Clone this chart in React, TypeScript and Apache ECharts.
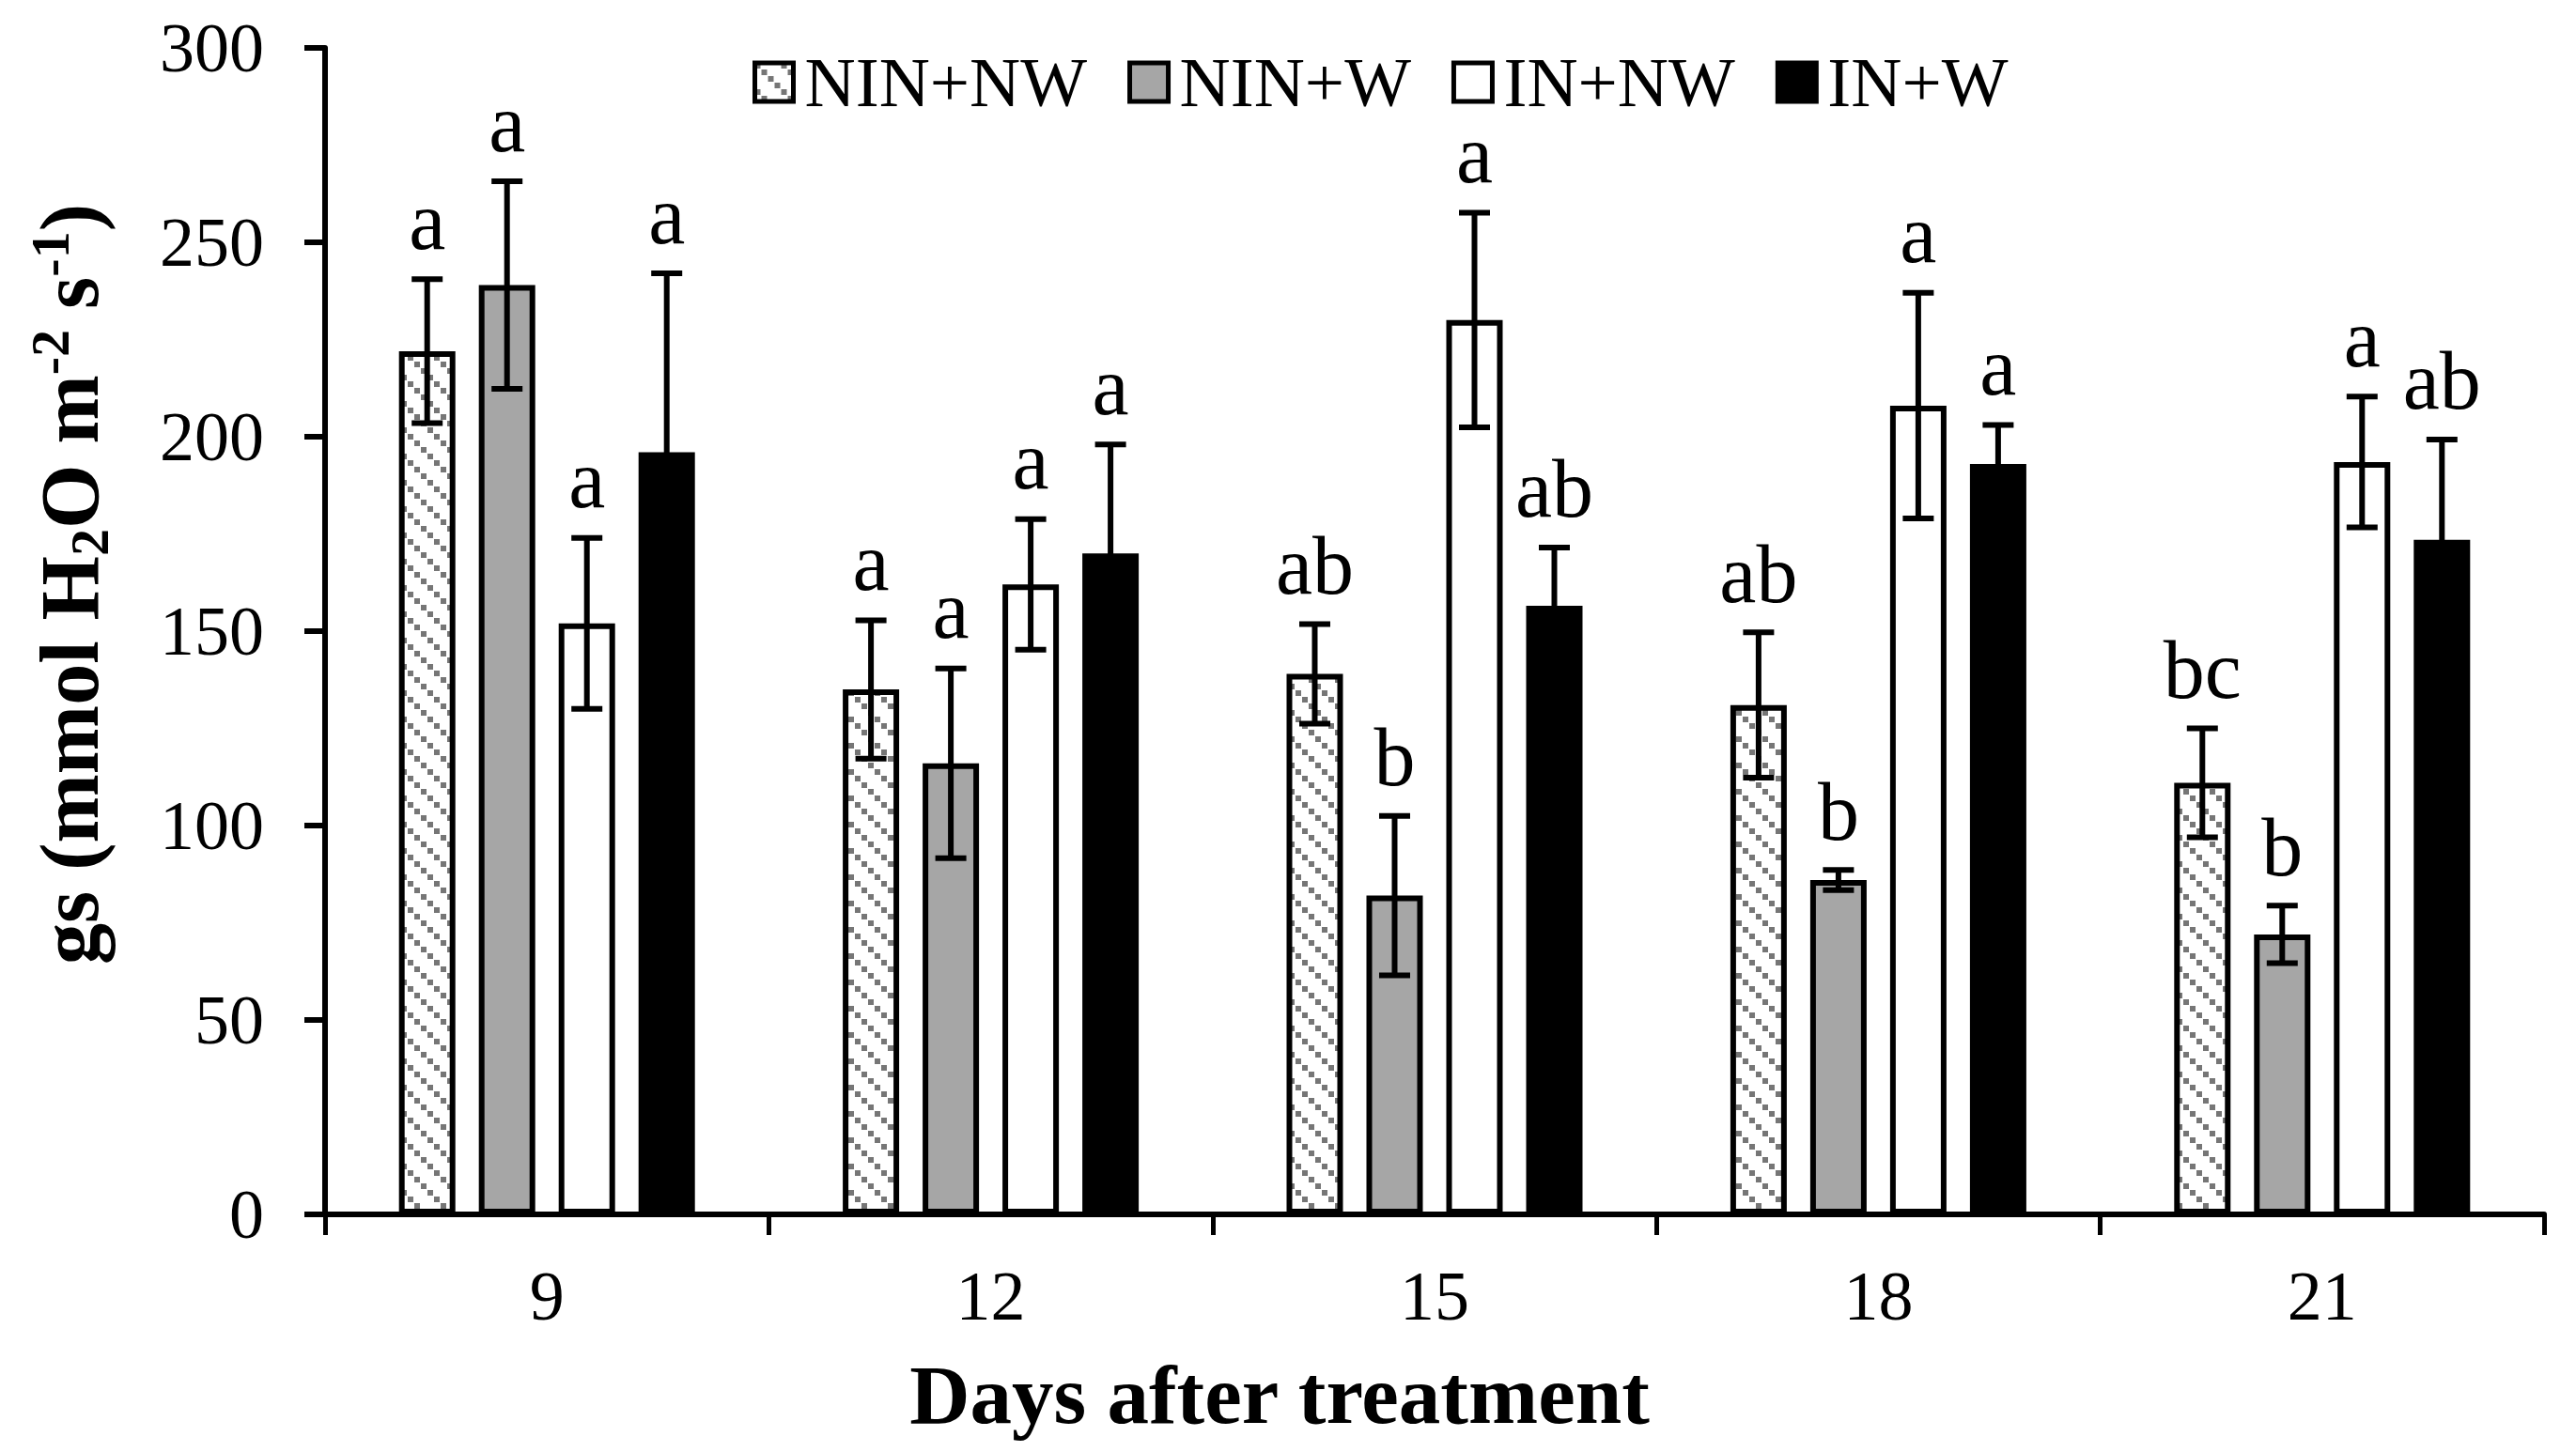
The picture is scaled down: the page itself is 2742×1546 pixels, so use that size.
import React, { useEffect, useRef } from 'react';
import * as echarts from 'echarts';

// ---- data ----
const categories = ['9', '12', '15', '18', '21'];
const seriesNames = ['NIN+NW', 'NIN+W', 'IN+NW', 'IN+W'];

const ninNw = [222, 135, 139, 131, 111];
const ninNwErr = [18.5, 17.8, 12.8, 18.7, 14];
const ninW = [239, 116, 82, 86, 72];
const ninWErr = [26.7, 24.4, 20.5, 2.6, 7.4];
const inNw = [152, 162, 230, 208, 193.5];
const inNwErr = [22, 16.8, 27.6, 29, 16.8];
const inW = [196, 170, 156.5, 193, 173.5];
const inWErr = [46, 28, 15, 10, 25.8];

const ninNwLetters = ['a', 'a', 'ab', 'ab', 'bc'];
const ninWLetters = ['a', 'a', 'b', 'b', 'b'];
const inNwLetters = ['a', 'a', 'a', 'a', 'a'];
const inWLetters = ['a', 'a', 'ab', 'a', 'ab'];

const yMin = 0;
const yMax = 300;
const yInterval = 50;

// ---- styling ----
const FONT = "'Liberation Serif', 'Times New Roman', serif";
const BAR_W = 60;
const BAR_GAP_RATIO = 0.4167;
const PITCH = BAR_W * (1 + BAR_GAP_RATIO);
const CAP = 16.5;
const LETTER_OFFSET = 62;

function makeHatch(): HTMLCanvasElement {
  const c = document.createElement('canvas');
  c.width = 28;
  c.height = 28;
  const ctx = c.getContext('2d')!;
  ctx.fillStyle = '#ffffff';
  ctx.fillRect(0, 0, 28, 28);
  ctx.fillStyle = '#767676';
  for (let k = 0; k < 4; k++) ctx.fillRect(k * 7, k * 7, 6, 6);
  return c;
}

export default function App() {
  const ref = useRef<HTMLDivElement>(null);

  useEffect(() => {
    document.body.style.margin = '0';
    if (!ref.current) return;
    const chart = echarts.init(ref.current, undefined, { renderer: 'svg' });

    const hatch = { image: makeHatch(), repeat: 'repeat' };
    const fills: any[] = [hatch, '#a6a6a6', '#ffffff', '#000000'];
    const values = [ninNw, ninW, inNw, inW];
    const errs = [ninNwErr, ninWErr, inNwErr, inWErr];
    const letters = [ninNwLetters, ninWLetters, inNwLetters, inWLetters];

    const barSeries = values.map((vals, i) => ({
      name: seriesNames[i],
      type: 'bar',
      data: vals,
      barWidth: BAR_W,
      barGap: (BAR_GAP_RATIO * 100).toFixed(2) + '%',
      itemStyle: { color: fills[i], borderColor: '#000', borderWidth: 6 },
      z: 2,
      silent: true,
    }));

    const errSeries = values.map((vals, i) => ({
      name: 'err_' + i,
      type: 'custom',
      z: 5,
      silent: true,
      encode: { x: 0, y: 1 },
      data: vals.map((v, j) => [j, v, errs[i][j]]),
      renderItem: (params: any, api: any) => {
        const j = api.value(0);
        const v = api.value(1);
        const e = api.value(2);
        const c = api.coord([j, v]);
        const top = api.coord([j, v + e]);
        const bot = api.coord([j, v - e]);
        const x = c[0] + (i - 1.5) * PITCH;
        const ls = { stroke: '#000', lineWidth: 6 };
        return {
          type: 'group',
          children: [
            { type: 'line', shape: { x1: x, y1: top[1], x2: x, y2: bot[1] }, style: ls },
            { type: 'line', shape: { x1: x - CAP, y1: top[1], x2: x + CAP, y2: top[1] }, style: ls },
            { type: 'line', shape: { x1: x - CAP, y1: bot[1], x2: x + CAP, y2: bot[1] }, style: ls },
            {
              type: 'text',
              x: x,
              y: top[1] - LETTER_OFFSET,
              style: {
                text: letters[i][params.dataIndex],
                fontSize: 88,
                fontFamily: FONT,
                fill: '#000',
                align: 'center',
                verticalAlign: 'middle',
              },
            },
          ],
        };
      },
    }));

    const option: any = {
      animation: false,
      backgroundColor: '#ffffff',
      textStyle: { fontFamily: FONT, color: '#000' },
      grid: { left: 346, top: 51, width: 2362, height: 1242, containLabel: false },
      legend: {
        data: seriesNames,
        left: 796,
        top: 45,
        icon: 'rect',
        itemWidth: 41,
        itemHeight: 41,
        itemGap: 43,
        selectedMode: false,
        itemStyle: { borderColor: '#000', borderWidth: 5 },
        textStyle: { fontSize: 75, fontFamily: FONT, color: '#000', lineHeight: 75, padding: [0, 0, 0, 7] },
      },
      xAxis: {
        type: 'category',
        data: categories,
        axisLine: { lineStyle: { color: '#000', width: 6 } },
        axisTick: { show: true, length: 22, lineStyle: { color: '#000', width: 5 } },
        axisLabel: { fontSize: 74, fontFamily: FONT, color: '#000', margin: 50 },
        name: 'Days after treatment',
        nameLocation: 'middle',
        nameGap: 142,
        nameTextStyle: {
          fontSize: 89,
          fontWeight: 'bold',
          fontFamily: FONT,
          color: '#000',
          lineHeight: 100,
          padding: [0, 330, 0, 0],
        },
      },
      yAxis: {
        type: 'value',
        min: yMin,
        max: yMax,
        interval: yInterval,
        axisLine: { show: true, lineStyle: { color: '#000', width: 6 } },
        axisTick: { show: true, length: 22, lineStyle: { color: '#000', width: 6 } },
        splitLine: { show: false },
        axisLabel: { fontSize: 74, fontFamily: FONT, color: '#000', margin: 65 },
        name: '{b|gs (mmol H}{sub|2}{b|O m}{sup|-2}{b| s}{sup|-1}{b|)}',
        nameLocation: 'middle',
        nameGap: 222,
        nameRotate: 90,
        nameTextStyle: {
          padding: [0, 0, 0, 100],
          rich: {
            b: { fontSize: 88, fontWeight: 'bold', fontFamily: FONT, color: '#000', lineHeight: 100 },
            sub: { fontSize: 58, fontWeight: 'bold', fontFamily: FONT, color: '#000', lineHeight: 58, verticalAlign: 'bottom' },
            sup: { fontSize: 58, fontWeight: 'bold', fontFamily: FONT, color: '#000', lineHeight: 58, verticalAlign: 'top' },
          },
        },
      },
      series: [...barSeries, ...errSeries],
    };

    chart.setOption(option);
    return () => chart.dispose();
  }, []);

  return <div ref={ref} style={{ width: 2742, height: 1546, background: '#fff' }} />;
}
